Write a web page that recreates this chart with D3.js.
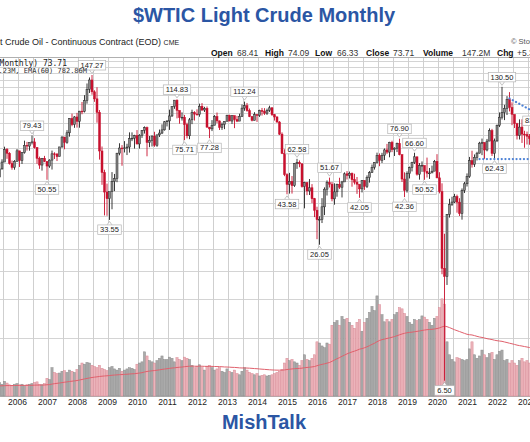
<!DOCTYPE html>
<html><head><meta charset="utf-8">
<script src="https://cdn.jsdelivr.net/npm/d3@7"></script>
<style>body{margin:0;background:#fff}svg{display:block}</style>
</head><body><svg id="c" width="530" height="442"></svg>
<script>
// ---------------- DATA (monthly, first bar = June 2005) ----------------
const firstMonth = "2005-06";
const opens = [
51.97,56.50,60.57,68.94,66.24,59.76,57.32,
61.04,67.92,61.41,66.63,71.88,71.29,73.93,74.40,70.26,62.91,58.73,62.97,
61.05,58.14,61.79,65.87,65.71,64.01,70.68,78.21,74.04,81.66,94.53,88.71,
95.98,91.75,101.84,101.58,113.46,127.35,140.00,124.08,115.46,100.64,67.81,54.43,
44.60,41.68,44.76,49.66,51.12,66.31,69.89,69.45,69.96,70.61,77.00,77.28,
79.36,72.89,79.66,83.76,86.15,73.97,75.63,78.95,71.92,79.97,81.43,84.11,
91.38,92.19,96.97,106.72,113.93,102.70,95.42,95.70,88.81,79.20,93.19,100.36,
98.83,98.48,107.07,103.02,104.87,86.53,84.96,88.06,96.47,92.19,86.24,88.91,
91.82,97.49,92.05,97.23,93.46,91.97,96.56,105.03,107.65,102.33,96.38,92.72,
98.42,97.49,102.59,101.58,99.74,102.71,105.37,98.17,95.96,91.16,80.54,66.15,
53.27,48.24,49.76,47.60,59.63,60.30,59.47,47.12,49.20,45.09,46.59,41.65,
37.04,33.62,33.75,38.34,45.92,49.10,48.33,41.60,44.70,48.24,46.86,49.44,
53.72,52.81,54.01,50.60,49.33,48.32,46.04,50.17,47.23,51.67,54.38,57.40,
60.42,64.73,61.64,64.94,68.57,67.04,74.15,68.76,69.80,73.25,65.31,50.93,
45.41,53.79,57.22,60.14,63.91,53.50,58.47,58.58,55.10,54.07,54.18,55.17,
61.06,51.56,44.76,20.48,18.84,35.49,39.27,40.27,42.61,40.22,35.79,45.34,
48.52,52.20,61.50,59.16,63.58,66.32,73.47,73.95,68.50,75.03,83.57,66.18,
75.21,88.15,95.72,100.28,104.69,114.67,105.76,98.62,89.55,79.49,86.53,80.55,
80.26,78.87,77.05,75.67,76.78,68.09];
const highs = [
60.95,62.30,70.85,69.81,67.00,61.50,61.80,
69.20,67.00,67.00,75.35,74.40,73.99,79.43,77.30,70.50,64.00,63.00,64.50,
58.60,62.30,68.09,66.90,66.40,70.70,78.77,78.10,83.90,94.74,99.29,96.80,
100.09,102.08,111.80,119.93,135.09,143.67,147.27,126.00,130.00,103.00,71.00,56.00,
48.60,43.80,54.66,53.64,66.50,73.38,72.00,75.00,73.00,82.00,82.00,80.00,
83.95,80.50,83.85,87.15,87.00,79.00,79.50,82.50,80.00,84.40,89.00,92.00,
92.58,103.40,107.00,113.98,114.83,102.00,100.60,98.00,90.50,95.00,103.37,101.77,
103.74,109.95,110.55,106.44,106.80,86.60,92.94,97.80,100.42,92.50,90.70,91.70,
98.24,98.24,97.45,97.35,97.05,99.24,108.93,112.24,110.70,104.60,96.70,100.75,
98.50,103.33,105.22,104.99,104.50,107.68,106.00,98.90,96.70,92.00,82.00,69.00,
54.00,54.24,52.50,59.90,62.58,61.57,59.80,49.50,49.00,50.92,48.36,42.00,
38.39,34.82,41.90,46.78,50.21,51.67,49.40,48.75,48.58,51.60,49.99,54.51,
55.24,54.94,54.45,53.76,52.00,48.00,50.43,50.23,52.86,55.22,59.05,60.51,
66.66,66.15,66.55,69.56,72.90,74.46,75.27,70.39,73.87,76.90,65.46,54.55,
55.08,57.81,60.73,66.60,63.87,59.93,60.94,57.99,63.38,57.00,58.40,61.87,
65.65,54.60,48.75,29.13,35.62,41.63,42.51,43.78,43.43,41.88,46.26,49.43,
53.93,63.81,67.98,65.47,67.26,74.45,76.98,73.95,76.67,85.41,84.97,76.98,
88.84,100.54,130.50,108.66,118.73,123.68,111.45,97.65,90.39,93.64,93.74,83.34,
82.66,80.62,81.04,83.53,79.50,72.72];
const lows = [
50.07,56.00,60.60,62.60,59.00,56.00,56.00,
60.80,57.60,59.40,66.00,68.10,68.00,72.50,69.50,59.50,56.50,55.50,60.50,
50.55,57.10,56.10,62.50,61.20,64.30,70.10,69.00,73.00,78.50,87.30,85.90,
86.11,86.00,98.65,100.50,109.90,122.60,120.42,112.00,90.51,62.10,48.00,35.13,
35.00,33.55,37.40,45.00,49.30,64.90,58.32,66.80,65.05,66.70,75.00,69.50,
72.43,69.50,77.50,81.00,64.24,70.50,71.00,70.76,70.76,78.20,80.60,83.50,
87.10,84.10,96.00,104.30,94.60,89.60,92.50,75.71,77.10,76.50,89.20,92.52,
97.40,96.20,102.10,101.00,85.90,77.28,83.10,88.70,90.00,84.00,84.10,84.75,
91.80,92.00,89.30,85.61,91.10,92.20,95.90,102.20,101.20,95.80,91.77,92.70,
91.24,96.00,97.37,98.00,98.00,101.00,97.00,92.50,90.43,79.78,65.69,52.44,
43.58,43.90,43.90,47.00,56.51,57.43,46.68,37.75,43.21,43.27,39.81,34.53,
27.56,26.05,32.50,35.24,43.03,46.71,40.57,39.19,42.52,46.01,42.20,49.95,
50.71,51.22,47.09,48.18,43.76,42.05,44.42,45.58,46.46,49.10,54.20,56.09,
59.69,58.07,59.95,61.84,65.80,63.59,67.03,64.43,67.08,64.86,49.41,42.36,
44.35,51.23,55.04,59.41,52.74,50.60,54.79,50.52,51.72,50.99,54.72,55.52,
51.31,44.00,19.27,6.50,17.27,34.36,38.72,39.87,36.13,34.92,33.64,44.15,
47.18,51.55,57.25,57.63,61.56,66.12,65.01,62.60,67.58,74.96,64.43,62.43,
74.27,86.55,93.53,92.93,97.91,101.53,88.23,85.73,76.25,76.25,73.60,70.08,
72.46,72.25,64.12,74.82,63.57,66.80];
const closes = [
56.50,60.57,68.94,66.24,59.76,57.32,61.04,
67.92,61.41,66.63,71.88,71.29,73.93,74.40,70.26,62.91,58.73,62.97,61.05,
58.14,61.79,65.87,65.71,64.01,70.68,78.21,74.04,81.66,94.53,88.71,95.98,
91.75,101.84,101.58,113.46,127.35,140.00,124.08,115.46,100.64,67.81,54.43,44.60,
41.68,44.76,49.66,51.12,66.31,69.89,69.45,69.96,70.61,77.00,77.28,79.36,
72.89,79.66,83.76,86.15,73.97,75.63,78.95,71.92,79.97,81.43,84.11,91.38,
92.19,96.97,106.72,113.93,102.70,95.42,95.70,88.81,79.20,93.19,100.36,98.83,
98.48,107.07,103.02,104.87,86.53,84.96,88.06,96.47,92.19,86.24,88.91,91.82,
97.49,92.05,97.23,93.46,91.97,96.56,105.03,107.65,102.33,96.38,92.72,98.42,
97.49,102.59,101.58,99.74,102.71,105.37,98.17,95.96,91.16,80.54,66.15,53.27,
48.24,49.76,47.60,59.63,60.30,59.47,47.12,49.20,45.09,46.59,41.65,37.04,
33.62,33.75,38.34,45.92,49.10,48.33,41.60,44.70,48.24,46.86,49.44,53.72,
52.81,54.01,50.60,49.33,48.32,46.04,50.17,47.23,51.67,54.38,57.40,60.42,
64.73,61.64,64.94,68.57,67.04,74.15,68.76,69.80,73.25,65.31,50.93,45.41,
53.79,57.22,60.14,63.91,53.50,58.47,58.58,55.10,54.07,54.18,55.17,61.06,
51.56,44.76,20.48,18.84,35.49,39.27,40.27,42.61,40.22,35.79,45.34,48.52,
52.20,61.50,59.16,63.58,66.32,73.47,73.95,68.50,75.03,83.57,66.18,75.21,
88.15,95.72,100.28,104.69,114.67,105.76,98.62,89.55,79.49,86.53,80.55,80.26,
78.87,77.05,75.67,76.78,68.09,70.64];
// volume in millions
const volumes = [
230,200,250,220,190,180,200,
210,190,200,180,190,200,210,230,240,200,190,210,
300,280,480,400,380,390,420,430,400,440,420,400,
450,520,560,540,570,560,520,500,480,520,470,450,
430,480,500,460,440,470,420,440,460,480,470,450,
540,560,580,750,680,600,580,560,600,640,680,620,
620,660,640,580,650,620,600,660,640,620,520,480,
500,530,480,440,500,520,480,440,460,480,420,400,
460,420,400,440,380,360,420,480,440,400,380,360,
380,340,350,360,340,350,360,380,400,420,450,560,
640,600,620,580,560,520,600,700,620,600,640,700,
920,900,850,820,900,880,1200,1250,1280,1200,1350,1300,
1320,1250,1200,1150,1250,1300,1100,1250,1320,1420,1520,1450,
1700,1550,1380,1260,1300,1260,1300,1380,1420,1500,1480,1400,
1350,1250,1220,1300,1280,1300,1360,1340,1300,1250,1200,1320,
1350,1500,1650,1560,920,700,620,580,650,640,620,600,
620,800,920,700,640,680,780,700,650,720,740,620,
700,760,780,600,620,560,600,560,520,600,640,580,
600,560,620,540,580,560];
const emaSeed = 170;      // EMA(60) of volume before first bar (millions)
const emaPeriod = 60;

const yearTicks = [2006,2007,2008,2009,2010,2011,2012,2013,2014,2015,2016,2017,2018,2019,2020,2021,2022,2023];
const priceGrid = [10,15,20,25,30,35,40,45,50,60,70,80,90,100,110,120,130,140,150,160,170];

const annoMonths = ["2006-07","2007-01","2008-07","2009-02","2011-05","2011-08","2012-06","2013-08","2015-01","2015-05","2016-02","2016-06","2017-06","2018-10","2018-12","2019-04","2019-08","2020-04","2021-12","2022-03","2023-04"];
const annoValues = [79.43,50.55,147.27,33.55,114.83,75.71,77.28,112.24,43.58,62.58,26.05,51.67,42.05,76.90,42.36,66.60,50.52,6.50,62.43,130.50,83.53];
const annoSides  = ["high","low","high","low","high","low","low","high","low","high","low","high","low","high","low","high","low","low","low","high","high"];

const supportLine = {from:"2021-06", to:"2023-08", value:62.43};
const trendLine = [["2022-06",116],["2023-06",98]];

const infoLabels = ["Open","High","Low","Close","Volume","Chg"];
const infoValues = ["68.41","74.09","66.33","73.71","147.2M","+5.30 (+7.75%)"];

// ---------------- CHART ----------------
const svg = d3.select("#c");
const FONT = "'Liberation Sans', Arial, sans-serif";
const idx = s => { const [Y,M] = s.split("-").map(Number); return (Y-2006)*12 + (M-1); };
const m0 = idx(firstMonth);
const bars = closes.map((c,i)=>({m:m0+i, o:opens[i], h:highs[i], l:lows[i], c, v:volumes[i],
  upVol: c >= (i>0?closes[i-1]:opens[i])}));

const plotTop = 57, plotBottom = 396;
const x = d3.scaleLinear().domain([0,204]).range([17,527]);
const y = d3.scaleLog().domain([5.56,177]).range([plotBottom, plotTop]);
const v = d3.scaleLinear().domain([0,1800]).range([plotBottom, 290]);

// grid
const g = svg.append("g");
g.selectAll("line.h").data(priceGrid).join("line")
  .attr("x1",0).attr("x2",530).attr("y1",d=>Math.round(y(d))+0.5).attr("y2",d=>Math.round(y(d))+0.5)
  .attr("stroke","#d4d4d4").attr("stroke-width",1);
const vgrid = [];
for (let yr=2005; yr<=2023; yr++) { vgrid.push((yr-2006)*12); vgrid.push((yr-2006)*12+6); }
g.selectAll("line.v").data(vgrid).join("line")
  .attr("x1",d=>Math.round(x(d)+1.25)+0.5).attr("x2",d=>Math.round(x(d)+1.25)+0.5)
  .attr("y1",plotTop).attr("y2",plotBottom)
  .attr("stroke","#cfcfcf").attr("stroke-width",1);
g.append("line").attr("x1",0).attr("x2",530).attr("y1",plotTop+0.5).attr("y2",plotTop+0.5).attr("stroke","#b0b0b0");
g.append("line").attr("x1",0).attr("x2",530).attr("y1",plotBottom+0.5).attr("y2",plotBottom+0.5).attr("stroke","#b0b0b0");

// volume bars
svg.append("g").selectAll("rect").data(bars).join("rect")
  .attr("x",d=>x(d.m)-1.1).attr("width",2.2)
  .attr("y",d=>v(d.v)).attr("height",d=>plotBottom - v(d.v))
  .attr("fill",d=>d.upVol?"#ababab":"#ebb4bb")
  .attr("stroke",d=>d.upVol?"#8c8c8c":"#d98a95").attr("stroke-width",0.5);

// volume EMA(60)
const k = 2/(emaPeriod+1);
let e = emaSeed;
const ema = bars.map(d=>{ e = d.v*k + e*(1-k); return {m:d.m, e}; });
svg.append("path").datum(ema)
  .attr("d", d3.line().x(d=>x(d.m)).y(d=>v(d.e)))
  .attr("fill","none").attr("stroke","#e0606c").attr("stroke-width",1);

// candles
const cg = svg.append("g");
cg.selectAll("line").data(bars).join("line")
  .attr("x1",d=>x(d.m)).attr("x2",d=>x(d.m))
  .attr("y1",d=>y(d.h)).attr("y2",d=>y(d.l))
  .attr("stroke",d=>d.c>=d.o?"#222":"#c8102e").attr("stroke-width",0.9);
cg.selectAll("rect").data(bars).join("rect")
  .attr("x",d=>x(d.m)-1).attr("width",2)
  .attr("y",d=>y(Math.max(d.o,d.c)))
  .attr("height",d=>Math.max(0.8, Math.abs(y(d.o)-y(d.c))))
  .attr("fill",d=>d.c>=d.o?"#8a8a8a":"#c8102e")
  .attr("stroke",d=>d.c>=d.o?"#222":"#c8102e").attr("stroke-width",0.5);

// blue dotted lines
const dotted = {fill:"none", stroke:"#4d82d6", "stroke-width":2.2, "stroke-dasharray":"0.1,3.6", "stroke-linecap":"round"};
const sl = svg.append("line")
  .attr("x1",x(idx(supportLine.from))).attr("x2",x(idx(supportLine.to)))
  .attr("y1",y(supportLine.value)).attr("y2",y(supportLine.value));
const tl = svg.append("line")
  .attr("x1",x(idx(trendLine[0][0]))).attr("y1",y(trendLine[0][1]))
  .attr("x2",x(idx(trendLine[1][0]))).attr("y2",y(trendLine[1][1]));
[sl,tl].forEach(s=>Object.entries(dotted).forEach(([a,b])=>s.attr(a,b)));

// annotations
const ag = svg.append("g").attr("font-family",FONT).attr("font-size","7.5px");
annoMonths.forEach((ms,i)=>{
  const cx = x(idx(ms)), ty = y(annoValues[i]);
  const txt = annoValues[i].toFixed(2);
  const w = txt.length*3.9 + 4, h = 9.5;
  const hi = annoSides[i]==="high";
  const by = hi ? ty - 5 - h : ty + 5;
  const gg = ag.append("g");
  gg.append("path")
    .attr("d", hi ? `M${cx-2.5},${by+h} L${cx},${ty-1.5} L${cx+2.5},${by+h}`
                  : `M${cx-2.5},${by} L${cx},${ty+1.5} L${cx+2.5},${by}`)
    .attr("fill","white").attr("stroke","#aaa").attr("stroke-width",0.7);
  gg.append("rect").attr("x",cx-w/2).attr("y",by).attr("width",w).attr("height",h)
    .attr("fill","white").attr("stroke","#b5b5b5").attr("stroke-width",0.7);
  gg.append("text").attr("x",cx).attr("y",by+7.3).attr("text-anchor","middle")
    .attr("fill","#222").text(txt);
});

// x axis
const xAxis = d3.axisBottom(x).tickValues(yearTicks.map(yv=>(yv-2006)*12))
  .tickFormat(d=>String(2006 + d/12)).tickSize(0).tickPadding(0);
const ax = svg.append("g").attr("transform",`translate(0,${plotBottom+3})`).call(xAxis);
ax.select(".domain").remove();
ax.selectAll("text").attr("font-family",FONT).attr("font-size","8.5px").attr("fill","#222").attr("dy","0.72em");

// legends inside plot
svg.append("text").attr("x",67).attr("y",65.5).attr("text-anchor","end")
  .attr("font-family","'DejaVu Sans Mono', monospace").attr("font-size","8px").attr("fill","#222")
  .text("$WTIC (Monthly) 73.71");
svg.append("text").attr("x",87).attr("y",73).attr("text-anchor","end")
  .attr("font-family","'DejaVu Sans Mono', monospace").attr("font-size","7px").attr("fill","#333")
  .text("Volume 147.23M, EMA(60) 782.86M");

// header lines
const hd = svg.append("text").attr("x",-17).attr("y",45).attr("font-family",FONT).attr("font-size","9px").attr("fill","#222");
hd.append("tspan").text("Light Crude Oil - Continuous Contract (EOD) ");
hd.append("tspan").attr("font-size","7px").text("CME");
svg.append("text").attr("x",511).attr("y",44).attr("font-family",FONT).attr("font-size","7.5px").attr("fill","#555").text("© StockCharts.com");

const infoLX = [211,265,315,366,423,497];
const infoVX = [237,288,337,393,462,517];
infoLabels.forEach((l,i)=>{
  svg.append("text").attr("x",infoLX[i]).attr("y",55.5).attr("font-family",FONT).attr("font-size","8.5px")
    .attr("font-weight","bold").attr("fill","#111").text(l);
  svg.append("text").attr("x",infoVX[i]).attr("y",55.5).attr("font-family",FONT).attr("font-size","8.5px")
    .attr("fill","#333").text(infoValues[i]);
});

// titles
svg.append("text").attr("x",264).attr("y",21.7).attr("text-anchor","middle")
  .attr("font-family",FONT).attr("font-weight","bold").attr("font-size","20px").attr("fill","#2b56a4")
  .text("$WTIC Light Crude Monthly");
svg.append("text").attr("x",264).attr("y",429).attr("text-anchor","middle")
  .attr("font-family",FONT).attr("font-weight","bold").attr("font-size","20px").attr("fill","#2b56a4")
  .text("MishTalk");
</script></body></html>
